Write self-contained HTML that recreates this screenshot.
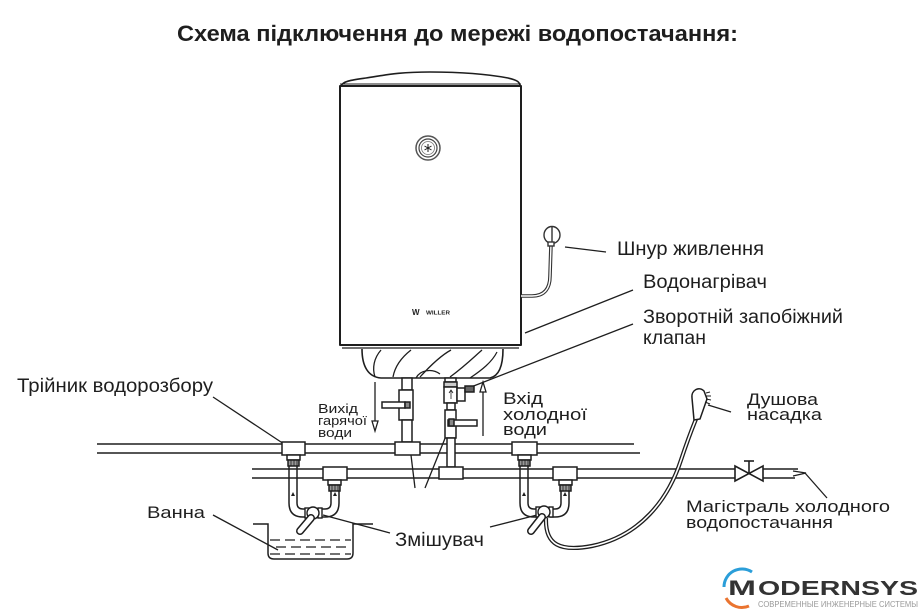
<!DOCTYPE html>
<html><head><meta charset="utf-8"><style>
html,body{margin:0;padding:0;background:#fff;}
svg{display:block;font-family:"Liberation Sans","DejaVu Sans",sans-serif;}
</style></head><body>
<svg width="920" height="610" viewBox="0 0 920 610" xmlns="http://www.w3.org/2000/svg">
<rect width="920" height="610" fill="#fff"/>
<text x="177" y="41" font-size="22" font-weight="bold" fill="#1e1e1e" textLength="561" lengthAdjust="spacingAndGlyphs">Схема підключення до мережі водопостачання:</text>

<g fill="none" stroke="#1e1e1e" stroke-width="1.6" stroke-linejoin="round">
<!-- boiler cap -->
<path d="M341,86 C343,81 352,80 366,78 C386,75 398,72 430,72 C466,72 492,75 508,78 C517,80 520,82 520,86 Z" fill="#fff"/>
<line x1="340" y1="84" x2="521" y2="84" stroke-width="1"/>
<!-- body -->
<rect x="340" y="86" width="181" height="259" fill="#fff" stroke-width="2"/>
<line x1="342" y1="348" x2="519" y2="348" stroke-width="1.2"/>
<!-- bowl -->
<path d="M362,349 C362,366 368,377 381,378 L490,378 C499,376 503,366 503,349" fill="#fff"/>
<path d="M375,377 C372,368 374,358 381,350" stroke-width="1.3"/>
<path d="M393,377 C395,366 402,357 411,350" stroke-width="1.3"/>
<path d="M420,377 C430,366 440,356 451,350" stroke-width="1.3"/>
<path d="M450,377 C465,366 475,356 482,350" stroke-width="1.3"/>
<path d="M416,378 C420,370 432,368 440,374" stroke-width="1.2"/>
<path d="M470,378 C482,370 492,362 497,352" stroke-width="1.2"/>
<!-- knob -->
<circle cx="428" cy="148" r="12" stroke="#555" stroke-width="1.5" fill="#fff"/>
<circle cx="428" cy="148" r="9" stroke="#444" stroke-width="1.2"/>
<circle cx="428" cy="148" r="6.5" stroke="#777" stroke-width="0.8"/>
<path d="M428,144 V152 M424.5,146 L431.5,150 M424.5,150 L431.5,146" stroke-width="1"/>
</g>
<text x="412" y="315" font-size="8" font-weight="bold" fill="#222">W</text>
<text x="426" y="314.5" font-size="5.5" font-weight="bold" fill="#222" textLength="24" lengthAdjust="spacingAndGlyphs">WILLER</text>

<!-- power cord -->
<path d="M521,296 L532,296 C545,296 550,288 550,276 L551,244" fill="none" stroke="#333" stroke-width="3.6"/>
<path d="M521,296 L532,296 C545,296 550,288 550,276 L551,244" fill="none" stroke="#fff" stroke-width="1.4"/>
<g fill="#fff" stroke="#333" stroke-width="1.4">
<ellipse cx="552" cy="235" rx="8" ry="8.5"/>
<line x1="552" y1="227" x2="552" y2="243"/>
<rect x="548" y="242" width="6" height="4"/>
</g>

<g stroke="#1e1e1e" stroke-width="1.3" fill="none">
<!-- leader lines -->
<line x1="565" y1="247" x2="606" y2="252"/>
<line x1="525" y1="333" x2="633" y2="290"/>
<line x1="633" y1="324" x2="471" y2="387"/>
<line x1="213" y1="397" x2="290" y2="448"/>
<line x1="213" y1="515" x2="278" y2="550"/>
<line x1="323" y1="515" x2="390" y2="533"/>
<line x1="490" y1="527" x2="537" y2="515"/>
<line x1="415" y1="488" x2="405" y2="406"/>
<line x1="425" y1="488" x2="452" y2="421"/>
<line x1="708" y1="405" x2="731" y2="412"/>
<line x1="805" y1="473" x2="827" y2="498"/>
</g>

<g stroke="#1e1e1e" stroke-width="1.6" fill="none">
<!-- pipes -->
<line x1="97" y1="444" x2="634" y2="444"/>
<line x1="97" y1="453" x2="640" y2="453"/>
<line x1="252" y1="469" x2="735" y2="469"/>
<line x1="252" y1="478" x2="735" y2="478"/>
<line x1="763" y1="469" x2="798" y2="469"/>
<line x1="763" y1="478" x2="795" y2="478"/>
<path d="M793,471 L806,473 L793,476" stroke-width="1.2"/>
<!-- valve -->
<path d="M735,466 L763,481 L763,466 L735,481 Z" fill="#fff"/>
<line x1="749" y1="473" x2="749" y2="461"/>
<line x1="744" y1="461" x2="754" y2="461"/>
</g>

<g stroke="#1e1e1e" stroke-width="1.5" fill="#fff">
<!-- central hot outlet -->
<rect x="402" y="378" width="10" height="12"/>
<rect x="399" y="390" width="14" height="30"/>
<rect x="382" y="402" width="23" height="6"/>
<rect x="405" y="402" width="5" height="6" fill="#888"/>
<rect x="402" y="420" width="10" height="22"/>
<rect x="395" y="442" width="25" height="13"/>
<!-- central cold inlet -->
<rect x="445" y="378" width="11" height="4"/>
<rect x="444" y="382" width="13" height="5" fill="#ccc"/>
<rect x="444" y="387" width="13" height="16"/>
<rect x="457" y="388" width="8" height="13"/>
<rect x="465" y="386" width="9" height="6" fill="#666"/>
<rect x="447" y="403" width="8" height="7"/>
<rect x="445" y="410" width="11" height="28"/>
<rect x="448" y="420" width="29" height="6"/>
<rect x="449" y="419" width="5" height="7" fill="#888"/>
<rect x="447" y="438" width="8" height="29"/>
<rect x="439" y="467" width="24" height="12"/>

<!-- left tees -->
<rect x="282" y="442" width="23" height="13"/>
<rect x="287" y="455" width="13" height="5"/>
<rect x="288" y="460" width="11" height="6" fill="#999"/>
<rect x="323" y="467" width="24" height="13"/>
<rect x="328" y="480" width="13" height="5"/>
<rect x="329" y="485" width="11" height="6" fill="#999"/>
<!-- right tees -->
<rect x="512" y="442" width="25" height="13"/>
<rect x="518" y="455" width="13" height="5"/>
<rect x="519" y="460" width="11" height="6" fill="#999"/>
<rect x="553" y="467" width="24" height="13"/>
<rect x="559" y="480" width="13" height="5"/>
<rect x="560" y="485" width="11" height="6" fill="#999"/>
</g>
<g stroke="#1e1e1e" stroke-width="0.8">
<line x1="451" y1="399" x2="451" y2="391"/>
<path d="M449,393 L451,390 L453,393" fill="none"/>
<line x1="291" y1="460" x2="291" y2="466"/><line x1="294" y1="460" x2="294" y2="466"/><line x1="297" y1="460" x2="297" y2="466"/>
<line x1="332" y1="485" x2="332" y2="491"/><line x1="335" y1="485" x2="335" y2="491"/><line x1="338" y1="485" x2="338" y2="491"/>
<line x1="522" y1="460" x2="522" y2="466"/><line x1="525" y1="460" x2="525" y2="466"/><line x1="528" y1="460" x2="528" y2="466"/>
<line x1="563" y1="485" x2="563" y2="491"/><line x1="566" y1="485" x2="566" y2="491"/><line x1="569" y1="485" x2="569" y2="491"/>
</g>

<!-- flow arrows -->
<g stroke="#1e1e1e" stroke-width="1.3" fill="#fff">
<line x1="375" y1="382" x2="375" y2="421"/>
<path d="M372,421 L378,421 L375,431 Z"/>
<line x1="483" y1="436" x2="483" y2="392"/>
<path d="M480,392 L486,392 L483,382 Z"/>
</g>

<!-- branch pipes left -->
<g stroke="#1e1e1e" stroke-width="1.5" fill="none">
<path d="M289,466 V503 Q289,517 303,517 H307"/>
<path d="M297,466 V503 Q297,509 303,509 H307"/>
<path d="M339,491 V503 Q339,517 325,517 H320"/>
<path d="M331,491 V503 Q331,509 325,509 H320"/>
<path d="M520,466 V503 Q520,517 534,517 H538"/>
<path d="M528,466 V503 Q528,509 534,509 H538"/>
<path d="M569,491 V503 Q569,517 555,517 H550"/>
<path d="M561,491 V503 Q561,509 555,509 H550"/>
</g>
<g fill="#1e1e1e">
<path d="M291,496 L293,492 L295,496 Z"/><path d="M333,496 L335,492 L337,496 Z"/>
<path d="M522,496 L524,492 L526,496 Z"/><path d="M563,496 L565,492 L567,496 Z"/>
</g>

<!-- hose -->
<path d="M546,518 C545,545 560,552 592,546 C640,536 668,500 681,460 C689,436 694,424 696,419" fill="none" stroke="#1e1e1e" stroke-width="4.2"/>
<path d="M546,518 C545,545 560,552 592,546 C640,536 668,500 681,460 C689,436 694,424 696,419" fill="none" stroke="#fff" stroke-width="1.6"/>
<!-- shower head -->
<path d="M694,420 L692,398 C691,390 699,386 704,391 L707,399 L700,419 Z" fill="#fff" stroke="#1e1e1e" stroke-width="1.5"/>
<g stroke="#1e1e1e" stroke-width="1"><line x1="706" y1="393" x2="710" y2="392"/><line x1="706" y1="396" x2="711" y2="396"/><line x1="706" y1="399" x2="711" y2="400"/><line x1="705" y1="402" x2="710" y2="404"/></g>

<!-- mixers -->
<g stroke="#1e1e1e" stroke-width="1.4" fill="#fff">
<rect x="305" y="508" width="4" height="10"/>
<rect x="318" y="508" width="4" height="10"/>
<circle cx="313" cy="513" r="6"/>
<rect x="536" y="507" width="4" height="10"/>
<rect x="549" y="507" width="4" height="10"/>
<circle cx="544" cy="512" r="6"/>
</g>
<g stroke-linecap="round">
<line x1="311" y1="518" x2="300" y2="531" stroke="#1e1e1e" stroke-width="8"/>
<line x1="311" y1="518" x2="300" y2="531" stroke="#fff" stroke-width="5"/>
<line x1="542" y1="517" x2="531" y2="531" stroke="#1e1e1e" stroke-width="8"/>
<line x1="542" y1="517" x2="531" y2="531" stroke="#fff" stroke-width="5"/>
</g>

<!-- tub -->
<path d="M253,524 L268,524 L268,553 Q268,559 274,559 L347,559 Q353,559 353,553 L353,524 L373,524" fill="none" stroke="#1e1e1e" stroke-width="1.5"/>
<g stroke="#1e1e1e" stroke-width="1.3" stroke-dasharray="10,5">
<line x1="270" y1="540" x2="351" y2="540"/>
<line x1="276" y1="547" x2="351" y2="547"/>
<line x1="270" y1="554" x2="351" y2="554"/>
</g>

<!-- labels -->
<g fill="#1e1e1e" font-size="19">
<text x="617" y="255" textLength="147" lengthAdjust="spacingAndGlyphs">Шнур живлення</text>
<text x="643" y="288" textLength="124" lengthAdjust="spacingAndGlyphs">Водонагрівач</text>
<text x="643" y="323" textLength="200" lengthAdjust="spacingAndGlyphs">Зворотній запобіжний</text>
<text x="643" y="344" textLength="63" lengthAdjust="spacingAndGlyphs">клапан</text>
<text x="17" y="392" textLength="196" lengthAdjust="spacingAndGlyphs">Трійник водорозбору</text>
<text x="395" y="546" textLength="89" lengthAdjust="spacingAndGlyphs">Змішувач</text>
</g>
<g fill="#1e1e1e" font-size="17">
<text x="503" y="404" textLength="40" lengthAdjust="spacingAndGlyphs">Вхід</text>
<text x="503" y="420" textLength="84" lengthAdjust="spacingAndGlyphs">холодної</text>
<text x="503" y="435" textLength="44" lengthAdjust="spacingAndGlyphs">води</text>
<text x="747" y="405" textLength="71" lengthAdjust="spacingAndGlyphs">Душова</text>
<text x="747" y="420" textLength="75" lengthAdjust="spacingAndGlyphs">насадка</text>
<text x="147" y="518" textLength="58" lengthAdjust="spacingAndGlyphs">Ванна</text>
<text x="686" y="512" textLength="204" lengthAdjust="spacingAndGlyphs">Магістраль холодного</text>
<text x="686" y="528" textLength="147" lengthAdjust="spacingAndGlyphs">водопостачання</text>
</g>
<g fill="#1e1e1e" font-size="13">
<text x="318" y="413" textLength="40" lengthAdjust="spacingAndGlyphs">Вихід</text>
<text x="318" y="425" textLength="49" lengthAdjust="spacingAndGlyphs">гарячої</text>
<text x="318" y="437" textLength="34" lengthAdjust="spacingAndGlyphs">води</text>
</g>

<!-- logo -->
<path d="M724,587 A18,18 0 0,1 752,572" fill="none" stroke="#2b9ed9" stroke-width="3"/>
<path d="M726,598 A18,18 0 0,0 749,606" fill="none" stroke="#ea7430" stroke-width="3"/>
<text x="728" y="595" font-size="21" font-weight="bold" fill="#333" textLength="28" lengthAdjust="spacingAndGlyphs">M</text>
<text x="758" y="595" font-size="20" font-weight="bold" fill="#333" textLength="160" lengthAdjust="spacingAndGlyphs">ODERNSYS</text>
<text x="758" y="607" font-size="8" fill="#999" textLength="160" lengthAdjust="spacingAndGlyphs">СОВРЕМЕННЫЕ ИНЖЕНЕРНЫЕ СИСТЕМЫ</text>
</svg>
</body></html>
